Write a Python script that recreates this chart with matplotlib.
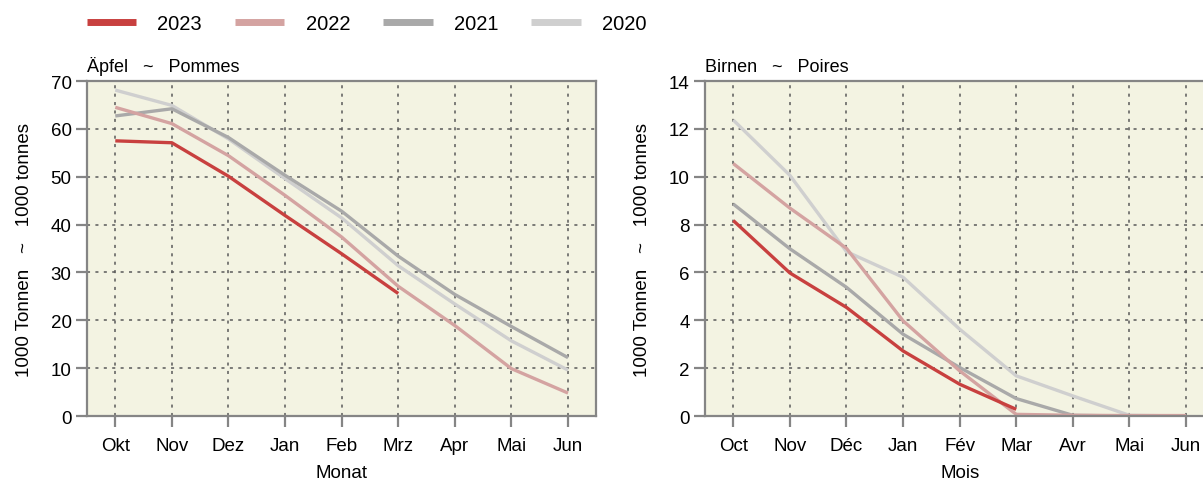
#Apple and pear stocks, 2020-2023

import numpy as np
import matplotlib as mpl
import matplotlib.pyplot as plt
from matplotlib.lines import Line2D
mpl.rcParams['font.family'] = ['Liberation Sans', 'DejaVu Sans']

#data
years = ['2023', '2022', '2021', '2020']
colors = ['#c8403f', '#d4a3a1', '#a9a9a9', '#cfcfcf']

months_de = ['Okt', 'Nov', 'Dez', 'Jan', 'Feb', 'Mrz', 'Apr', 'Mai', 'Jun']
months_fr = ['Oct', 'Nov', 'Déc', 'Jan', 'Fév', 'Mar', 'Avr', 'Mai', 'Jun']

apples_2023 = [57.5, 57.1, 50.1, 41.9, 33.9, 25.6]
apples_2022 = [64.5, 61.1, 54.4, 46.1, 37.4, 27.1, 18.9, 9.9, 4.8]
apples_2021 = [62.7, 64.2, 58.2, 50.3, 42.8, 33.4, 25.4, 18.7, 12.2]
apples_2020 = [68.1, 64.9, 57.9, 49.6, 41.4, 31.4, 23.4, 15.7, 9.6]

pears_2023 = [8.17, 5.98, 4.54, 2.72, 1.33, 0.28]
pears_2022 = [10.55, 8.69, 7.01, 3.98, 1.89, 0.07, 0.03, 0.02, 0.02]
pears_2021 = [8.86, 6.99, 5.38, 3.42, 2.03, 0.73, 0.03, 0.0, 0.0]
pears_2020 = [12.37, 10.06, 6.87, 5.80, 3.63, 1.68, 0.84, 0.03, 0.0]

apples = [apples_2023, apples_2022, apples_2021, apples_2020]
pears = [pears_2023, pears_2022, pears_2021, pears_2020]

fig = plt.figure(figsize=(12.03, 4.81), dpi=100)
ax1 = fig.add_axes([0.0723, 0.133, 0.4234, 0.6965])
ax2 = fig.add_axes([0.586, 0.133, 0.4234, 0.6965])

def style(ax, series, months, ymax, ystep, title, xlabel):
    ax.set_facecolor('#f3f3e2')
    #draw oldest first so 2023 stays on top
    for vals, col in list(zip(series, colors))[::-1]:
        ax.plot(np.arange(len(vals)), vals, color=col, lw=2.4, solid_capstyle='butt')
    ax.set_xlim(-0.5, 8.5)
    ax.set_ylim(0, ymax)
    ax.set_xticks(np.arange(len(months)))
    ax.set_xticklabels(months)
    ax.set_yticks(np.arange(0, ymax + ystep / 2, ystep))
    ax.grid(True, color='#5a5a5a', lw=1.1, linestyle=(0, (2, 3.5)))
    ax.set_axisbelow(True)
    for s in ax.spines.values():
        s.set_color('#858585')
        s.set_linewidth(1.6)
    ax.tick_params(axis='both', colors='#858585', width=1.6, length=8,
                   labelcolor='black', labelsize=13.5, pad=3)
    ax.tick_params(axis='x', pad=7)
    ax.set_title(title, loc='left', fontsize=13, pad=7)
    ax.set_xlabel(xlabel, fontsize=13.5, labelpad=7)
    ax.set_ylabel('1000 Tonnen   ~   1000 tonnes', fontsize=13.5, labelpad=13)

style(ax1, apples, months_de, 70, 10, 'Äpfel   ~   Pommes', 'Monat')
style(ax2, pears, months_fr, 14, 2, 'Birnen   ~   Poires', 'Mois')

#legend
handles = [Line2D([], [], color=c, lw=5, solid_capstyle='butt') for c in colors]
fig.legend(handles, years, loc='upper left', bbox_to_anchor=(0.057, 1.007),
           ncol=4, frameon=False, fontsize=14.5, handlelength=2.45,
           handletextpad=1.05, columnspacing=1.65)

plt.savefig('out.png', dpi=100)
